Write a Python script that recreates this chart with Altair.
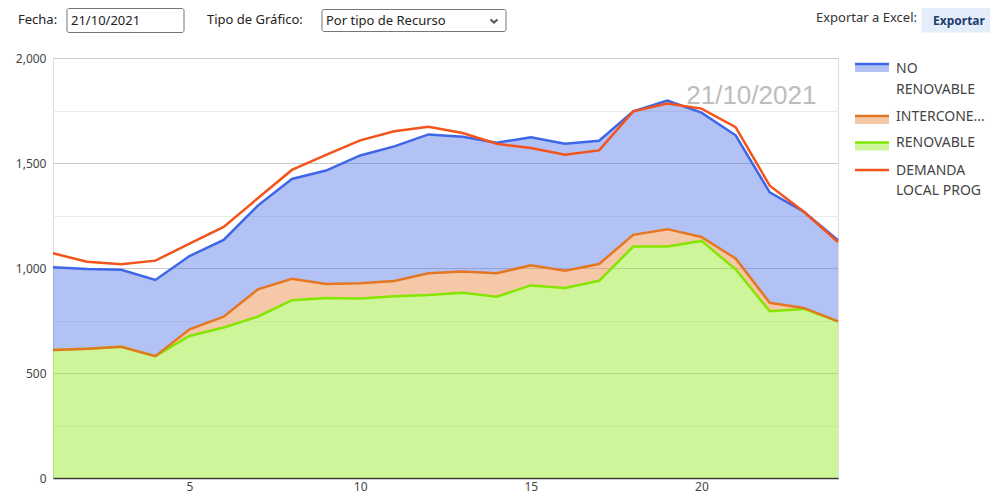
import altair as alt
import pandas as pd

# ---------------- data ----------------
horas = list(range(1, 25))
renovable = [609, 615, 625, 580, 676, 717, 768, 847, 857, 855, 866, 871,
             882, 863, 917, 905, 939, 1102, 1102, 1129, 994, 794, 805, 746]
interconexion = [0, 0, 0, 0, 32, 51, 130, 102, 67, 72, 72, 104,
                 101, 112, 96, 82, 80, 56, 83, 19, 51, 40, 5, 0]
no_renovable = [394, 380, 367, 363, 349, 366, 399, 475, 540, 609, 641, 661,
                642, 622, 609, 605, 587, 588, 612, 592, 587, 526, 458, 386]
demanda = [1070, 1030, 1018, 1035, 1116, 1196, 1332, 1467, 1539, 1608, 1651, 1673,
           1643, 1592, 1571, 1539, 1560, 1746, 1783, 1759, 1671, 1392, 1268, 1124]

series = ["NO RENOVABLE", "INTERCONEXION", "RENOVABLE"]
colores = ["#3f66e6", "#e67722", "#84e600"]
color_demanda = "#f2541b"
fecha = "21/10/2021"
y_ticks = list(range(0, 2001, 250))
x_ticks = [5, 10, 15, 20]

rows = []
for nombre, vals, orden in [("RENOVABLE", renovable, 1),
                            ("INTERCONEXION", interconexion, 2),
                            ("NO RENOVABLE", no_renovable, 3)]:
    for h, v in zip(horas, vals):
        rows.append({"hora": h, "valor": v, "serie": nombre, "orden": orden})
df = pd.DataFrame(rows)
df_dem = pd.DataFrame({"hora": horas, "demanda": demanda})

FONT = "Noto Sans"

xscale = alt.Scale(domain=[1, 24], nice=False, zero=False)
yscale = alt.Scale(domain=[0, 2000], nice=False)

areas = alt.Chart(df).mark_area(fillOpacity=0.4, line={"strokeWidth": 2.5}).encode(
    x=alt.X("hora:Q", scale=xscale,
            axis=alt.Axis(values=x_ticks, grid=False, ticks=False, domainColor="#333333",
                          domainWidth=1.5, labelPadding=3, title=None, labelFontSize=12,
                          labelColor="#444444", labelFont=FONT)),
    y=alt.Y("valor:Q", stack="zero", scale=yscale,
            axis=alt.Axis(values=y_ticks, format=",d",
                          labelExpr="datum.value % 500 === 0 ? datum.label : ''",
                          domain=False, ticks=False, title=None, labelPadding=7,
                          labelFontSize=12, labelColor="#444444", labelFont=FONT,
                          gridColor=alt.condition("datum.value % 500 === 0",
                                                  alt.value("#cccccc"), alt.value("#ebebeb")))),
    color=alt.Color("serie:N", scale=alt.Scale(domain=series, range=colores), legend=None),
    order=alt.Order("orden:Q"),
)

linea_dem = alt.Chart(df_dem).mark_line(color=color_demanda, strokeWidth=2.5).encode(
    x=alt.X("hora:Q", scale=xscale, title=None),
    y=alt.Y("demanda:Q", scale=yscale, title=None),
)

texto_fecha = alt.Chart(alt.Data(values=[{}])).mark_text(
    text=fecha, fontSize=26, color="#bdbdbd", font="Liberation Sans", align="center",
    baseline="middle").encode(x=alt.datum(21.46), y=alt.datum(1820))

one = alt.Data(values=[{}])


def txt(t, x, y, size=13, color="#222222", align="left", weight="normal", font=FONT):
    return alt.Chart(one).mark_text(text=t, fontSize=size, color=color, align=align,
                                    baseline="middle", fontWeight=weight, font=font).encode(
        x=alt.value(x), y=alt.value(y))


def box(x, x2, y, y2, fill="white", stroke="#767676", radius=0, sw=1):
    return alt.Chart(one).mark_rect(fill=fill, stroke=stroke, strokeWidth=sw,
                                    cornerRadius=radius).encode(
        x=alt.value(x), x2=alt.value(x2), y=alt.value(y), y2=alt.value(y2))


def hline(x, x2, y, color, sw=2.5):
    return alt.Chart(one).mark_rule(color=color, strokeWidth=sw).encode(
        x=alt.value(x), x2=alt.value(x2), y=alt.value(y))


deco = []
# header
deco.append(txt("Fecha:", -35, -38))
deco.append(box(14, 131, -49.5, -25.5, radius=2))
deco.append(txt(fecha, 18, -37))
deco.append(txt("Tipo de Gráfico:", 154, -38))
deco.append(box(269, 453, -48.5, -26.5, radius=2))
deco.append(txt("Por tipo de Recurso", 273, -37))
deco.append(alt.Chart(one).mark_point(shape="M-1,-0.45L0,0.45L1,-0.45", filled=False,
                                      stroke="#111111", strokeWidth=2, size=50).encode(
    x=alt.value(441), y=alt.value(-37)))
deco.append(txt("Exportar a Excel:", 864, -40, color="#333333", align="right"))
deco.append(box(869, 937, -50, -26, fill="#e3eefa", stroke="#e3eefa"))
deco.append(txt("Exportar", 906, -37, size=12, color="#1c3d6e", align="center", weight="bold"))

# legend
lx, lx2, tx = 802, 836, 843
legend_items = [
    (series[0], colores[0], 6, ["NO", "RENOVABLE"], 11),
    ("INTERCONE...", colores[1], 58, ["INTERCONE..."], 58.5),
    (series[2], colores[2], 84.5, ["RENOVABLE"], 85),
]
for _, c, ly, lines, ty in legend_items:
    deco.append(alt.Chart(one).mark_rect(fill=c, fillOpacity=0.4).encode(
        x=alt.value(lx), x2=alt.value(lx2), y=alt.value(ly), y2=alt.value(ly + 8)))
    deco.append(hline(lx, lx2, ly, c))
    for i, l in enumerate(lines):
        deco.append(txt(l, tx, ty + 20.5 * i, size=14, color="#444444"))
deco.append(hline(lx, lx2, 112, color_demanda))
deco.append(txt("DEMANDA", tx, 112.5, size=14, color="#444444"))
deco.append(txt("LOCAL PROG", tx, 132.5, size=14, color="#444444"))

chart = alt.layer(areas, linea_dem, texto_fecha, *deco).properties(
    width=785, height=420,
    autosize=alt.AutoSizeParams(type="none"),
    padding={"left": 45, "top": 50, "right": 152, "bottom": 16},
).configure_view(stroke=None).configure(background="white")

chart.save("out.html", embed_options={"renderer": "svg", "actions": False})
